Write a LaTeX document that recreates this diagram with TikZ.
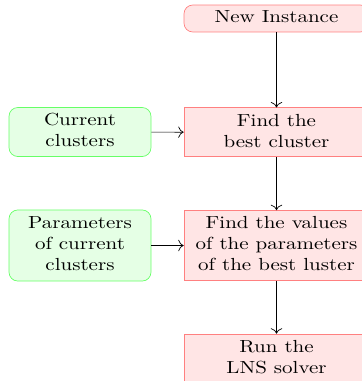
\documentclass[tikz,border=0pt]{standalone}
\usepackage{graphicx}
\usetikzlibrary{arrows.meta}
\tikzset{
  redbox/.style={draw=red!50, fill=red!10, inner sep=0pt, minimum width=105.7pt},
  greenbox/.style={draw=green!60, fill=green!10, rounded corners=5pt, inner sep=0pt, minimum width=81.1pt},
  arr/.style={-{To[scale=1.25]}, black}
}
\newcommand\wtxt[1]{\scalebox{1.2}[1]{\begin{tabular}{@{}c@{}}#1\end{tabular}}}
\begin{document}
\begin{tikzpicture}[x=0.5714pt, y=-0.5714pt]
\useasboundingbox (0,0) rectangle (362,381);
\clip (0,0) rectangle (362,381);
\node[redbox, rounded corners=5pt, minimum height=15.4pt] (new) at (276.5,18.5) {\wtxt{New Instance}};
\node[redbox, minimum height=28pt] (best) at (276.5,132.3) {\wtxt{Find the\\best cluster}};
\node[redbox, minimum height=40pt] (values) at (276.5,245.5) {\wtxt{Find the values\\of the parameters\\of the best luster}};
\node[redbox, minimum height=28pt] (run) at (276.5,358.5) {\wtxt{Run the\\LNS solver}};
\node[greenbox, minimum height=28pt] (cur) at (80,132) {\wtxt{Current\\clusters}};
\node[greenbox, minimum height=40.6pt] (par) at (80,245.5) {\wtxt{Parameters\\of current\\clusters}};
\draw[arr] (new) -- (best);
\draw[arr] (best) -- (values);
\draw[arr] (values) -- (run);
\draw[arr] (cur) -- (best);
\draw[arr] (par) -- (values);
\end{tikzpicture}
\end{document}
